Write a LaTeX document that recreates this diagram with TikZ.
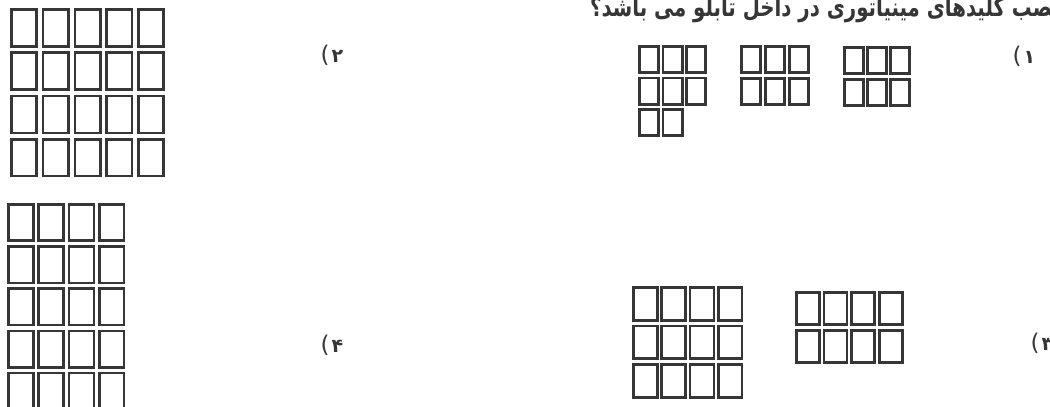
\documentclass[tikz,border=0pt]{standalone}
\usepackage{fontspec}
\newfontfamily\arabicfont[Script=Arabic]{DejaVu Sans}
\newfontfamily\arabicboldfont[Script=Arabic]{DejaVu Sans Bold}
\newfontfamily\parenfont{DejaVu Sans}
\TeXXeTstate=1
\definecolor{ink}{HTML}{363636}
\newcommand\keygrid[8]{% x0 y0 dx dy w h cols rows
  \foreach \ci in {1,...,#7}{\foreach \rj in {1,...,#8}{%
    \draw[keycell] ({#1+(\ci-1)*#3+1.3},{#2+(\rj-1)*#4+1.3}) rectangle ++({#5-2.6},{#6-2.6});}}}
\newcommand\optlabel[1]{\hbox{\parenfont\fontsize{23}{26}\selectfont(}\kern2pt\hbox{\arabicboldfont\fontsize{19}{24}\selectfont #1}}
\tikzset{keycell/.style={draw=ink,line width=2.6pt},
  numlabel/.style={text=ink,inner sep=0pt}}
\begin{document}
\begin{tikzpicture}[x=1pt,y=-1pt]
\useasboundingbox (0,0) rectangle (1050,407);
\clip (0,0) rectangle (1050,407);
\fill[white] (0,0) rectangle (1050,407);
% title (cut at top and right)
\node[anchor=base east,inner sep=0pt,text=ink,xscale=0.76] (title) at (1060,16)
  {\arabicboldfont\fontsize{26}{28}\selectfont\beginR نصب کلیدهای مینیاتوری در داخل تابلو می باشد؟\endR};
% option 2: top left 5x4
\keygrid{10}{8}{31.75}{43.3}{28}{39.5}{5}{4}
% option 4: bottom left 4x5
\keygrid{7}{203}{30.3}{42.2}{27.5}{39}{4}{5}
% option 1: three groups
\keygrid{638}{45}{23.5}{31.5}{22}{29}{3}{2}
\keygrid{638}{108}{23.5}{31.5}{22}{29}{2}{1}
\keygrid{740}{45}{24}{32}{22}{29}{3}{2}
\keygrid{843}{46}{23}{32}{22}{29}{3}{2}
% option 3: two groups
\keygrid{632}{286}{28.3}{38.5}{26.5}{35.5}{4}{3}
\keygrid{795}{291}{27.7}{38}{25.5}{35}{4}{2}
% labels
\node[numlabel] (l1) at (1024,56) {\optlabel{۱}};
\node[numlabel] (l2) at (332,55) {\optlabel{۲}};
\node[numlabel] (l3) at (1042,343) {\optlabel{۳}};
\node[numlabel] (l4) at (332,345) {\optlabel{۴}};
\end{tikzpicture}
\end{document}
